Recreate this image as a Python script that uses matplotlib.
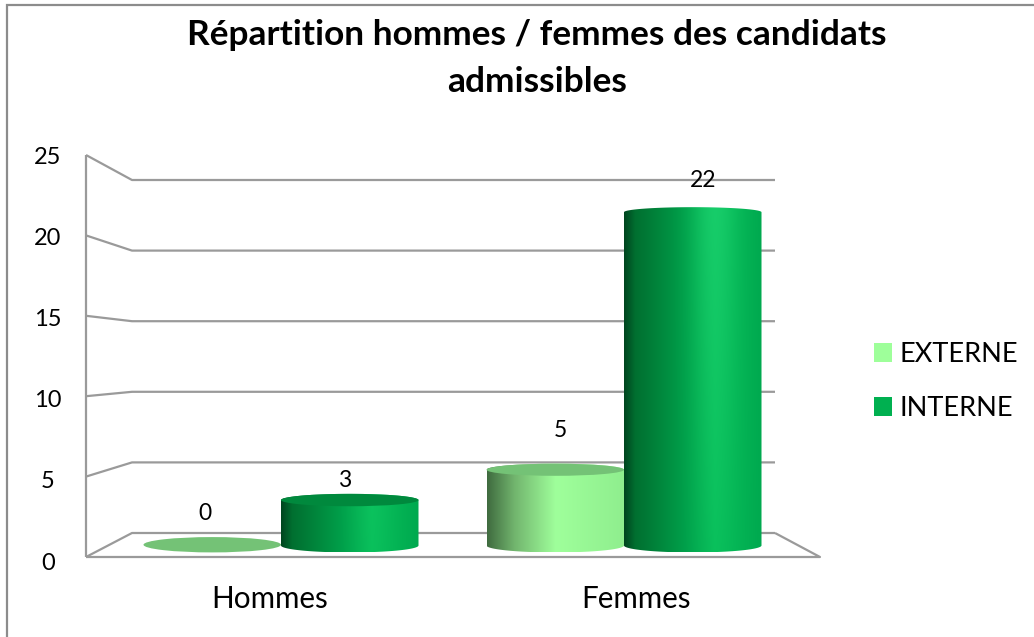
import numpy as np
import matplotlib
matplotlib.use('Agg')
import matplotlib.pyplot as plt
from matplotlib.colors import LinearSegmentedColormap, to_rgb
from matplotlib.patches import Ellipse, PathPatch, Patch, Rectangle
from matplotlib.path import Path

plt.rcParams['font.family'] = ['Lato', 'DejaVu Sans']

# Data
categories = ['Hommes', 'Femmes']
series_names = ['EXTERNE', 'INTERNE']
externe = [0, 5]
interne = [3, 22]
y_ticks = [0, 5, 10, 15, 20, 25]

# Colours
grid_col = '#9a9a9a'
frame_col = '#8c8c8c'
legend_cols = ['#9eff9a', '#00b050']
lid_cols = ['#74c276', '#00893d']
body_stops = [
    [(0, '#3f6b3f'), (0.2, '#72b56e'), (0.5, '#9fff9b'), (1, '#8fee8e')],
    [(0, '#00451f'), (0.08, '#006f30'), (0.45, '#00a04a'), (0.66, '#06bd58'), (1, '#00a94f')],
]
sheen = [0.0, 0.6]   # how much each series brightens toward the top of a tall bar
sheen_col = '#1fd472'

PX_PER_UNIT = 15.15
X0, Y0 = 281, 545.5      # pixel of category 0 / value 0 at the bars
GROUP_PX = 343
BAR_W = 137.5 / GROUP_PX


def to_x(px):
    return (px - X0) / GROUP_PX


def to_y(py):
    return (Y0 - py) / PX_PER_UNIT


fig = plt.figure(figsize=(10.34, 6.37), dpi=100)
ax = fig.add_axes([0, 0, 1, 1])
ax.axis('off')

# outer frame, only left and top are inside the picture
fig.add_artist(Rectangle((7 / 1034, -0.05), 1.2, 1.05 - 5 / 637, fill=False,
                         edgecolor=frame_col, linewidth=1.6, transform=fig.transFigure))


# the floor and walls of the 3d box, values go through front/back pixel scales
def front_y(v):
    return to_y(557 - 16.08 * v)


def back_y(v):
    return to_y(533 - 14.12 * v)


wall = dict(color=grid_col, lw=1.6, solid_capstyle='butt', zorder=1)
for v in y_ticks:
    ax.plot([to_x(86), to_x(132), to_x(775)], [front_y(v), back_y(v), back_y(v)], **wall)
    ax.text(to_x(48), to_y(563 - 16.24 * v), str(v), fontsize=17, ha='center', va='center', color='black')
ax.plot([to_x(86), to_x(86)], [front_y(0), front_y(y_ticks[-1])], **wall)
ax.plot([to_x(86), to_x(820), to_x(775)], [front_y(0), front_y(0), back_y(0)], **wall)


def cylinder(center, value, stops, lid_col, shine, z):
    left = center - BAR_W / 2
    right = center + BAR_W / 2
    lid_h = 0.42 - 0.004 * value
    base_h = 0.46
    cmap = LinearSegmentedColormap.from_list('c', stops)
    if value > 0:
        # colour across the bar, brightened a little with height
        img = cmap(np.linspace(0, 1, 256))[None, :, :3].repeat(64, axis=0)
        rows = np.linspace(1, 0, 64)[:, None, None] * value / y_ticks[-1]
        band = np.exp(-((np.linspace(0, 1, 256) - 0.66) / 0.16) ** 2)[None, :, None]
        img = img + (np.array(to_rgb(sheen_col)) - img) * shine * (0.25 + rows) * band
        t = np.linspace(np.pi, 2 * np.pi, 60)
        low_x = center + BAR_W / 2 * np.cos(t)
        low_y = base_h * np.sin(t)
        t2 = np.linspace(0, np.pi, 60)
        up_x = center + BAR_W / 2 * np.cos(t2)
        up_y = value + lid_h * np.sin(t2)
        verts = np.vstack([np.column_stack([low_x, low_y]), np.column_stack([up_x, up_y]),
                           [[low_x[0], low_y[0]]]])
        clip = PathPatch(Path(verts), transform=ax.transData, facecolor='none', edgecolor='none')
        ax.add_patch(clip)
        im = ax.imshow(img, extent=[left, right, -base_h, value + lid_h], aspect='auto',
                       interpolation='bilinear', zorder=z)
        im.set_clip_path(clip)
    if value == 0:
        ax.add_patch(Ellipse((center, 0.05), BAR_W, 2.2 * base_h, facecolor=lid_col,
                             edgecolor='none', zorder=z + 0.1))
    elif value < 10:
        ax.add_patch(Ellipse((center, value), BAR_W, 2 * lid_h, facecolor=lid_col,
                             edgecolor='none', zorder=z + 0.1))


all_series = [externe, interne]
for j, vals in enumerate(all_series):
    for i, val in enumerate(vals):
        center = i + (j - 0.5) * BAR_W
        cylinder(center, val, body_stops[j], lid_cols[j], sheen[j], 3 + j)

# data labels, nudged like the original
label_dx = [[-7, -5], [5, 10]]
label_dy = [[32, 20], [39, 31.5]]
for j, vals in enumerate(all_series):
    for i, val in enumerate(vals):
        center = i + (j - 0.5) * BAR_W
        ax.text(center + label_dx[i][j] / GROUP_PX, val + label_dy[i][j] / PX_PER_UNIT, str(val),
                fontsize=16.5, ha='center', va='center', color='black', zorder=6)

# category labels sit on the front plane of the box
for i, name in enumerate(categories):
    ax.text(to_x(86 + 734 * (i + 0.5) / len(categories)), to_y(599), name, fontsize=21.3,
            ha='center', va='center', color='black')

ax.text(to_x(537), to_y(58.5), 'Répartition hommes / femmes des candidats\nadmissibles',
        fontsize=25.4, fontweight='bold', ha='center', va='center', linespacing=1.58, color='black')

handles = [Patch(facecolor=c, edgecolor='none') for c in legend_cols]
ax.legend(handles, series_names, loc='upper left', bbox_to_anchor=(874 / 1034, 1 - 342 / 637),
          frameon=False, fontsize=19.5, handlelength=0.665, handleheight=0.665, handletextpad=0.29,
          labelspacing=1.07, borderpad=0, borderaxespad=0, labelcolor='black')

ax.set_xlim(to_x(0), to_x(1034))
ax.set_ylim(to_y(637), to_y(0))
fig.savefig('out.png', dpi=100)
